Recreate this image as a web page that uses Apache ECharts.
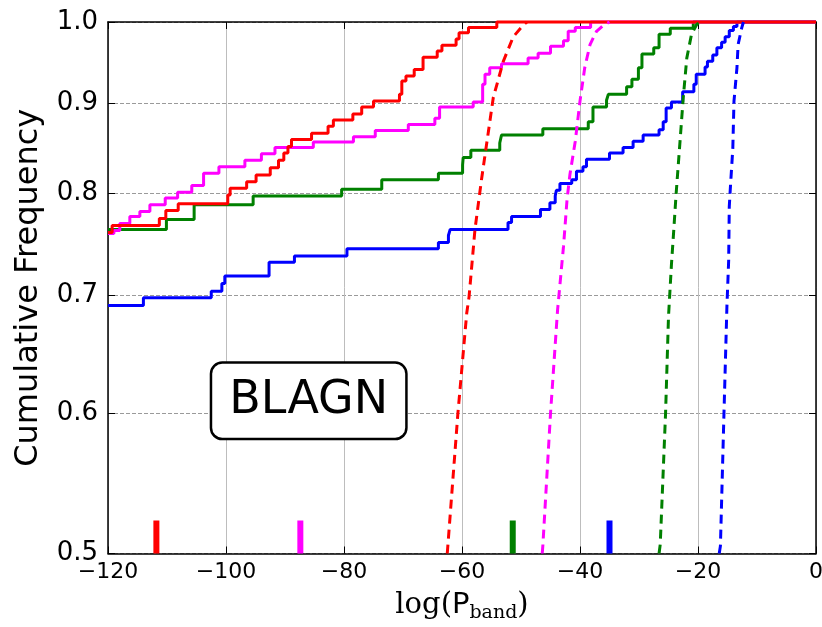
<!DOCTYPE html>
<html>
<head>
<meta charset="utf-8">
<script src="https://cdn.jsdelivr.net/npm/echarts@6/dist/echarts.min.js"></script>
<style>
html,body{margin:0;padding:0;background:#fff;}
#chart{width:822px;height:627px;}
</style>
</head>
<body>
<div id="chart"></div>
<script>
// ---- data ----
const xTicks = [-120, -100, -80, -60, -40, -20, 0];
const yTicks = [0.5, 0.6, 0.7, 0.8, 0.9, 1.0];

const redSteps = [[-120,0.760],[-119.3,0.767],[-111.3,0.774],[-110.2,0.782],[-108.1,0.789],[-99.7,0.798],[-99.3,0.805],[-96.5,0.812],[-94.9,0.819],[-92.5,0.827],[-91.1,0.835],[-90.2,0.843],[-89.5,0.850],[-88.9,0.858],[-85.5,0.865],[-82.7,0.873],[-81.8,0.880],[-78.5,0.887],[-77.0,0.895],[-75.0,0.902],[-70.6,0.910],[-70.2,0.926],[-69.5,0.932],[-68.1,0.940],[-66.6,0.955],[-64.2,0.963],[-63.4,0.970],[-61.0,0.978],[-60.5,0.986],[-58.9,0.993],[-54.1,1.0],[0,1.0]];
const magentaSteps = [[-120,0.759],[-119,0.762],[-118.0,0.769],[-116.3,0.776],[-114.6,0.781],[-112.9,0.788],[-110.3,0.795],[-108.2,0.801],[-105.8,0.808],[-103.8,0.821],[-101.2,0.828],[-96.8,0.835],[-94.0,0.842],[-91.7,0.849],[-85.2,0.855],[-78.4,0.861],[-74.7,0.868],[-69.1,0.875],[-64.6,0.882],[-63.8,0.895],[-58.1,0.901],[-56.5,0.922],[-56.1,0.934],[-55.3,0.942],[-53.3,0.947],[-48.8,0.954],[-47.1,0.960],[-45.0,0.969],[-42.8,0.976],[-42.0,0.988],[-40.8,0.993],[-38.2,1.0],[0,1.0]];
const greenSteps = [[-120,0.763],[-110.1,0.773],[-105.4,0.788],[-95.4,0.797],[-80.4,0.804],[-73.6,0.814],[-64.0,0.821],[-59.9,0.830],[-59.8,0.838],[-58.5,0.846],[-53.6,0.854],[-53.3,0.863],[-46.3,0.870],[-38.6,0.878],[-37.8,0.895],[-35.5,0.903],[-35.2,0.910],[-32.1,0.919],[-31.2,0.928],[-30.1,0.942],[-29.5,0.959],[-27.5,0.967],[-26.6,0.984],[-24.7,0.992],[-20.8,1.0],[0,1.0]];
const blueSteps = [[-120,0.691],[-114.0,0.698],[-102.5,0.704],[-100.7,0.711],[-100.2,0.718],[-92.7,0.731],[-88.4,0.737],[-79.5,0.744],[-64.0,0.750],[-62.3,0.757],[-62.0,0.763],[-52.2,0.770],[-51.6,0.776],[-46.7,0.783],[-45.1,0.790],[-44.2,0.797],[-44.0,0.803],[-43.4,0.810],[-41.4,0.814],[-40.6,0.823],[-39.5,0.828],[-38.9,0.836],[-35.0,0.843],[-32.7,0.849],[-31.0,0.856],[-29.3,0.863],[-26.6,0.869],[-25.9,0.878],[-25.4,0.894],[-24.5,0.901],[-22.6,0.913],[-20.7,0.922],[-20.3,0.934],[-18.8,0.943],[-18.4,0.950],[-17.5,0.958],[-16.8,0.967],[-16.0,0.974],[-15.4,0.981],[-14.7,0.989],[-14.0,0.994],[-13.4,1.0],[0,1.0]];

const redModel = [[-62.5,0.5],[-62.4,0.505],[-60.7,0.6],[-59.2,0.684],[-58.8,0.699],[-57.8,0.763],[-56.7,0.814],[-54.7,0.906],[-53.0,0.950],[-51.3,0.981],[-49.6,0.996],[-49.0,1.0]];
const magentaModel = [[-46.4,0.5],[-46.3,0.505],[-45.0,0.6],[-43.8,0.687],[-42.8,0.746],[-42.2,0.793],[-41.7,0.820],[-40.8,0.856],[-40.0,0.902],[-39.2,0.942],[-38.3,0.971],[-37.2,0.988],[-36.0,0.996],[-35.0,1.0]];
const greenModel = [[-26.6,0.5],[-26.4,0.506],[-25.5,0.6],[-25.0,0.681],[-24.5,0.729],[-24.1,0.763],[-23.7,0.8],[-23.0,0.860],[-22.5,0.906],[-21.9,0.954],[-21.1,0.984],[-20.2,0.997],[-19.5,1.0]];
const blueModel = [[-16.4,0.5],[-16.2,0.505],[-15.6,0.6],[-15.1,0.690],[-14.8,0.733],[-14.7,0.786],[-14.5,0.807],[-14.1,0.848],[-13.9,0.902],[-13.4,0.942],[-13.2,0.971],[-12.6,0.992],[-12.3,1.0]];

const markerX = [-111.8, -87.4, -51.4, -35.0];
const markerY = [0.5, 0.522];
const colors = ['#ff0000', '#ff00ff', '#008000', '#0000ff'];
const labelText = 'BLAGN';

// ---- chart ----
const chart = echarts.init(document.getElementById('chart'), null, {renderer: 'canvas'});
const fmtX = v => (v < 0 ? '\u2212' + Math.abs(v) : String(v));
const sans = 'DejaVu Sans';

const stepSets = [blueSteps, greenSteps, magentaSteps, redSteps];
const stepColors = [colors[3], colors[2], colors[1], colors[0]];
const modelSets = [redModel, magentaModel, greenModel, blueModel];

const series = [];
stepSets.forEach((d, i) => {
  series.push({type: 'line', data: d, step: 'end', showSymbol: false, symbol: 'none',
    lineStyle: {color: stepColors[i], width: 3}, z: 3, animation: false, clip: false});
});
modelSets.forEach((d, i) => {
  series.push({type: 'line', data: d, showSymbol: false, symbol: 'none',
    lineStyle: {color: colors[i], width: 3, type: [9, 6]}, z: 4, animation: false});
});
markerX.forEach((x, i) => {
  series.push({type: 'line', data: markerY.map(y => [x, y]), showSymbol: false, symbol: 'none',
    lineStyle: {color: colors[i], width: 6, cap: 'butt'}, z: 5, animation: false});
});

const option = {
  backgroundColor: '#fff',
  animation: false,
  grid: {left: 108, right: 6, top: 22, bottom: 73.5, containLabel: false, outerBoundsMode: 'none'},
  xAxis: [{
    type: 'value', min: -120, max: 0, interval: 20, position: 'bottom',
    axisLine: {show: true, onZero: false, lineStyle: {color: '#000', width: 1.5}},
    axisTick: {show: true, inside: true, length: 7, lineStyle: {color: '#000', width: 1}},
    axisLabel: {formatter: fmtX, fontFamily: sans, fontSize: 22, color: '#000', margin: 8},
    splitLine: {show: true, lineStyle: {color: '#bdbdbd', width: 1}},
    name: '{s|log(}{p|P}{b|band}{s|)}', nameLocation: 'middle', nameGap: 35,
    nameTextStyle: {rich: {
      s: {fontFamily: 'DejaVu Serif', fontSize: 29, color: '#000'},
      p: {fontFamily: sans, fontSize: 29, color: '#000'},
      b: {fontFamily: 'DejaVu Serif', fontSize: 19, color: '#000', padding: [15, 0, 0, 0]}
    }}
  }, {
    type: 'value', min: -120, max: 0, interval: 20, position: 'top',
    axisLine: {show: true, onZero: false, lineStyle: {color: '#000', width: 1.5}},
    axisTick: {show: true, inside: true, length: 7, lineStyle: {color: '#000', width: 1}},
    axisLabel: {show: false}, splitLine: {show: false}
  }],
  yAxis: [{
    type: 'log', logBase: 10, min: 0.5, max: 1.0, position: 'left',
    axisLine: {show: true, onZero: false, lineStyle: {color: '#000', width: 1.5}},
    axisTick: {show: true, inside: true, length: 7, customValues: yTicks, lineStyle: {color: '#000', width: 1}},
    axisLabel: {customValues: yTicks, formatter: v => Number(v).toFixed(1), fontFamily: sans, fontSize: 26, color: '#000', margin: 10},
    splitLine: {show: true, lineStyle: {color: '#9a9a9a', width: 1, type: [4, 2]}},
    minorTick: {show: false}, minorSplitLine: {show: false},
    name: 'Cumulative Frequency', nameLocation: 'middle', nameGap: 63,
    nameTextStyle: {fontFamily: sans, fontSize: 32, color: '#000'}
  }, {
    type: 'log', logBase: 10, min: 0.5, max: 1.0, position: 'right',
    axisLine: {show: true, onZero: false, lineStyle: {color: '#000', width: 1.5}},
    axisTick: {show: true, inside: true, length: 7, customValues: yTicks, lineStyle: {color: '#000', width: 1}},
    axisLabel: {show: false, customValues: yTicks}, splitLine: {show: false}
  }],
  series: series,
  graphic: [{
    type: 'text', x: 308.7, y: 400.8, z: 100,
    style: {
      text: labelText, font: '46px "DejaVu Sans"', fill: '#000',
      align: 'center', verticalAlign: 'middle',
      backgroundColor: '#fff', borderColor: '#000', borderWidth: 2.5, borderRadius: 10,
      padding: [14, 17]
    }
  }]
};
chart.setOption(option);
</script>
</body>
</html>
